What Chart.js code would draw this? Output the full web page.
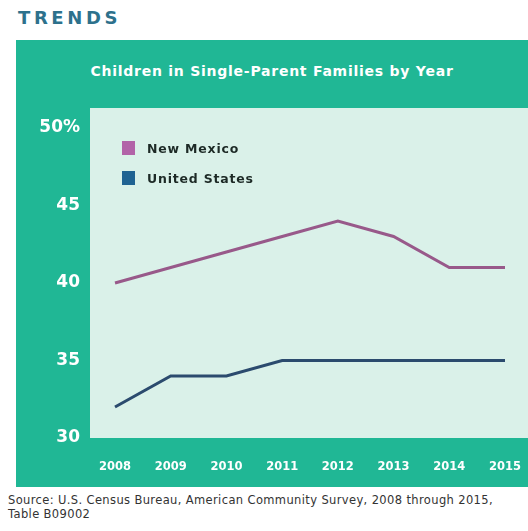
<!DOCTYPE html>
<html>
<head>
<meta charset="utf-8">
<script src="https://cdn.jsdelivr.net/npm/chart.js@4"></script>
<style>
  body { margin: 0; width: 528px; height: 531px; background: #fff; position: relative; overflow: hidden; font-family: "DejaVu Sans", sans-serif; }
  #heading { position: absolute; left: 18px; top: 7px; font: bold 18px "DejaVu Sans", sans-serif; letter-spacing: 3.6px; color: #2d718c; }
  #panel { position: absolute; left: 16px; top: 40px; width: 512px; height: 447px; background: #20b795; }
  #title { position: absolute; left: 0; top: 23px; width: 512px; text-align: center; font: bold 14px "DejaVu Sans", sans-serif; color: #fff; letter-spacing: 0.75px; }
  #plotBg { position: absolute; left: 74px; top: 68px; width: 438px; height: 330px; background: #daf1e9; }
  #wrap { position: absolute; left: 0; top: 60px; width: 512px; height: 387px; }
  #legend { position: absolute; left: 122px; top: 133px; font: bold 12.5px "DejaVu Sans", sans-serif; color: #1d2a26; letter-spacing: 0.8px; }
  #legend div { height: 30px; display: flex; align-items: center; }
  #legend span.sw { display: inline-block; width: 13px; height: 14px; margin-right: 12px; }
  #source { position: absolute; left: 8px; top: 493px; font: 11.5px "DejaVu Sans", sans-serif; color: #333; line-height: 14px; letter-spacing: 0.37px; }
</style>
</head>
<body>
<div id="heading">TRENDS</div>
<div id="panel">
  <div id="title">Children in Single-Parent Families by Year</div>
  <div id="plotBg"></div>
  <div id="wrap"><canvas id="trendChart"></canvas></div>
</div>
<div id="legend"></div>
<div id="source">Source: U.S. Census Bureau, American Community Survey, 2008 through 2015,<br>Table B09002</div>
<script>
const years = ['2008', '2009', '2010', '2011', '2012', '2013', '2014', '2015'];
const newMexico = [40, 41, 42, 43, 44, 43, 41, 41];
const unitedStates = [32, 34, 34, 35, 35, 35, 35, 35];
const yTicks = [30, 35, 40, 45, 50];
const yTickLabels = ['30', '35', '40', '45', '50%'];

const series = [
  { label: 'New Mexico', data: newMexico, line: '#98598a', swatch: '#b263a8' },
  { label: 'United States', data: unitedStates, line: '#2b4b6e', swatch: '#1f6392' }
];

// legend sits inside the plot, built from the series list
const legend = document.getElementById('legend');
series.forEach(s => {
  const row = document.createElement('div');
  row.innerHTML = `<span class="sw" style="background:${s.swatch}"></span>${s.label}`;
  legend.appendChild(row);
});

new Chart(document.getElementById('trendChart'), {
  type: 'line',
  data: {
    labels: years,
    datasets: series.map(s => ({
      label: s.label,
      data: s.data,
      borderColor: s.line,
      borderWidth: 3,
      pointRadius: 0,
      tension: 0,
      fill: false
    }))
  },
  options: {
    responsive: true,
    maintainAspectRatio: false,
    animation: false,
    layout: { padding: { top: 28, right: 23, left: 0, bottom: 0 } },
    plugins: { legend: { display: false }, tooltip: { enabled: false } },
    scales: {
      x: {
        offset: false,
        grid: { display: false },
        border: { display: false },
        ticks: { color: '#fff', padding: 14, maxRotation: 0, font: { family: 'DejaVu Sans', weight: 'bold', size: 11.5 } },
        // fixed band under the plot; label overflow is covered by the layout padding
        afterFit: axis => { axis.height = 49; axis.paddingLeft = 0; axis.paddingRight = 0; }
      },
      y: {
        min: 30,
        max: 50,
        grid: { display: false },
        border: { display: false },
        afterBuildTicks: axis => { axis.ticks = yTicks.map(v => ({ value: v })); },
        ticks: {
          color: '#fff',
          padding: 27,
          font: { family: 'DejaVu Sans', weight: 'bold', size: 17 },
          callback: v => yTickLabels[yTicks.indexOf(v)]
        },
        afterFit: axis => { axis.width = 99; axis.paddingTop = 0; axis.paddingBottom = 0; }
      }
    }
  }
});
</script>
</body>
</html>
